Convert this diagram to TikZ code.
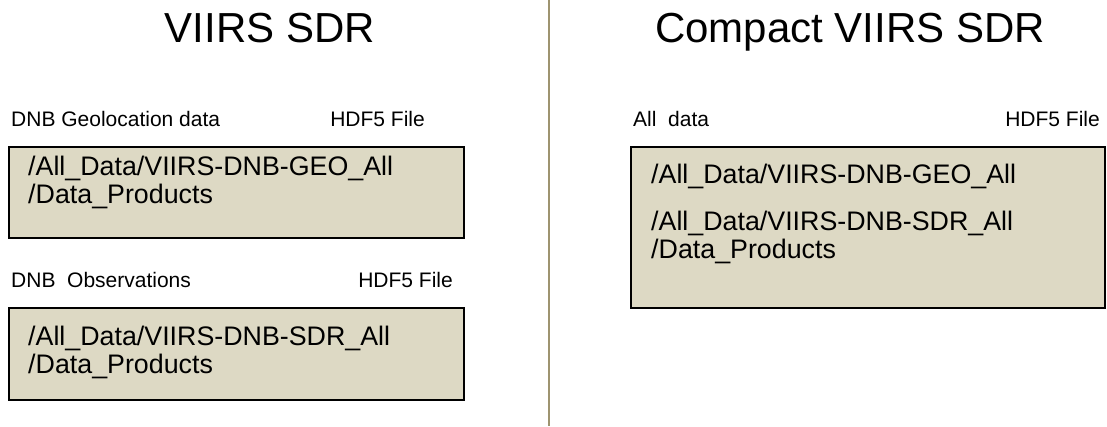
\documentclass[tikz,border=0pt]{standalone}
\usepackage{fontspec}
\setmainfont{Liberation Sans}
\definecolor{boxfill}{RGB}{221,217,196}
\definecolor{divider}{RGB}{158,148,112}
\begin{document}
\begin{tikzpicture}[x=1pt,y=-1pt,
  filebox/.style={draw=black, line width=1.5pt, fill=boxfill, rectangle, inner sep=0pt, outer sep=0pt, anchor=north west},
  titletext/.style={font=\fontsize{42}{48}\selectfont, inner sep=0pt, anchor=base},
  labeltext/.style={font=\fontsize{21}{24}\selectfont, inner sep=0pt},
  pathtext/.style={font=\fontsize{26.8}{30}\selectfont, inner sep=0pt, anchor=base west}]
\useasboundingbox (0,0) rectangle (1107,426);
% divider
\coordinate (vtop) at (549,0);
\coordinate (vbot) at (549,426);
\draw[divider, line width=2pt] (vtop) -- (vbot);
% titles
\node[titletext] (t1) at (270,42) {VIIRS SDR};
\node[titletext] (t2) at (850,42) {Compact VIIRS SDR};
% left column
\node[labeltext, anchor=base west] (l1) at (11,126) {DNB Geolocation data};
\node[labeltext, anchor=base east] (h1) at (425,126) {HDF5 File};
\node[filebox, minimum width=455pt, minimum height=91pt] (b1) at (9,147) {};
\node[pathtext] (b1a) at ([shift={(19,28)}]b1.north west) {/All\_Data/VIIRS-DNB-GEO\_All};
\node[pathtext] (b1b) at ([shift={(19,56)}]b1.north west) {/Data\_Products};
\node[labeltext, anchor=base west] (l2) at (11,287) {DNB\ \ Observations};
\node[labeltext, anchor=base east] (h2) at (453,287) {HDF5 File};
\node[filebox, minimum width=455pt, minimum height=92pt] (b2) at (9,308) {};
\node[pathtext] (b2a) at ([shift={(19,37)}]b2.north west) {/All\_Data/VIIRS-DNB-SDR\_All};
\node[pathtext] (b2b) at ([shift={(19,65)}]b2.north west) {/Data\_Products};
% right column
\node[labeltext, anchor=base west] (l3) at (633,126) {All\ \ data};
\node[labeltext, anchor=base east] (h3) at (1100,126) {HDF5 File};
\node[filebox, minimum width=474pt, minimum height=161pt] (b3) at (631,147) {};
\node[pathtext] (b3a) at ([shift={(20,36)}]b3.north west) {/All\_Data/VIIRS-DNB-GEO\_All};
\node[pathtext] (b3b) at ([shift={(20,83)}]b3.north west) {/All\_Data/VIIRS-DNB-SDR\_All};
\node[pathtext] (b3c) at ([shift={(20,111)}]b3.north west) {/Data\_Products};
\end{tikzpicture}
\end{document}
